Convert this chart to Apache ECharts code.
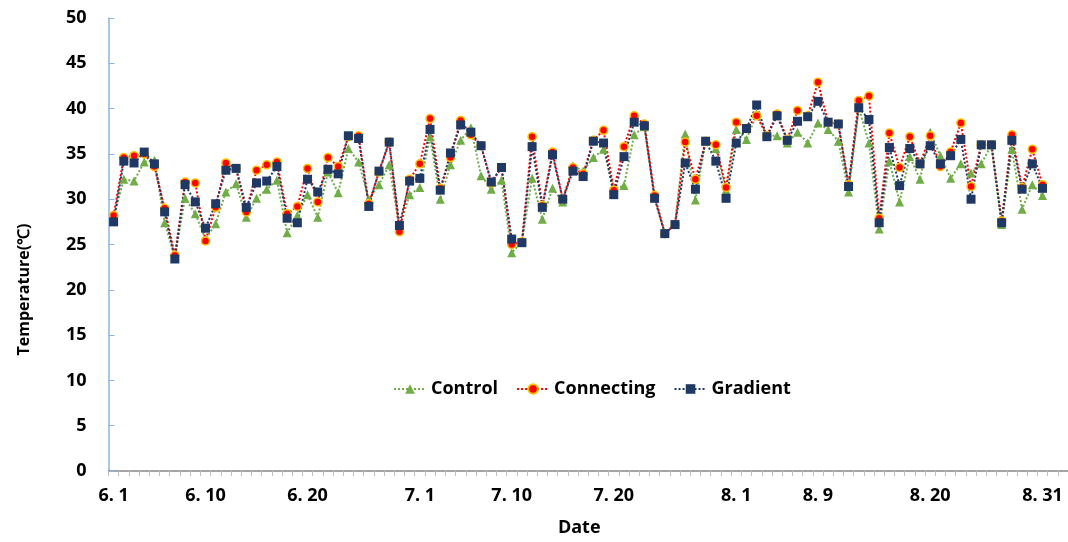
<!DOCTYPE html>
<html>
<head>
<meta charset="utf-8">
<script src="https://cdn.jsdelivr.net/npm/echarts@6/dist/echarts.min.js"></script>
<style>
html,body{margin:0;padding:0;background:#fff;}
#chart{width:1068px;height:542px;}
</style>
</head>
<body>
<div id="chart"></div>
<script>
var dates = ['6. 1','6. 2','6. 3','6. 4','6. 5','6. 6','6. 7','6. 8','6. 9','6. 10',
  '6. 11','6. 12','6. 13','6. 14','6. 15','6. 16','6. 17','6. 18','6. 19','6. 20',
  '6. 21','6. 22','6. 23','6. 24','6. 25','6. 26','6. 27','6. 28','6. 29','6. 30',
  '7. 1','7. 2','7. 3','7. 4','7. 5','7. 6','7. 7','7. 8','7. 9','7. 10',
  '7. 11','7. 12','7. 13','7. 14','7. 15','7. 16','7. 17','7. 18','7. 19','7. 20',
  '7. 21','7. 22','7. 23','7. 24','7. 25','7. 26','7. 27','7. 28','7. 29','7. 30','7. 31',
  '8. 1','8. 2','8. 3','8. 4','8. 5','8. 6','8. 7','8. 8','8. 9','8. 10',
  '8. 11','8. 12','8. 13','8. 14','8. 15','8. 16','8. 17','8. 18','8. 19','8. 20',
  '8. 21','8. 22','8. 23','8. 24','8. 25','8. 26','8. 27','8. 28','8. 29','8. 30','8. 31'];
var trailingBlank = ['', ''];
var shownLabels = ['6. 1','6. 10','6. 20','7. 1','7. 10','7. 20','8. 1','8. 9','8. 20','8. 31'];

var control = [28.0, 32.2, 32.0, 34.1, 34.3, 27.4, 23.6, 30.1, 28.4, 25.6,
  27.3, 30.8, 31.7, 28.0, 30.1, 31.1, 32.1, 26.3, 28.2, 30.5,
  28.0, 33.0, 30.7, 35.6, 34.1, 30.0, 31.6, 33.8, 26.8, 30.5,
  31.3, 36.9, 30.0, 33.8, 36.5, 37.9, 32.6, 31.1, 32.1, 24.1,
  25.3, 32.3, 27.8, 31.2, 29.7, 33.7, 33.1, 34.6, 35.5, 31.1,
  31.5, 37.1, 38.0, 30.2, 26.3, 27.3, 37.2, 29.9, 36.4, 35.6,
  31.0, 37.7, 36.6, 39.4, 37.0, 37.0, 36.2, 37.4, 36.2, 38.4,
  37.7, 36.4, 30.8, 40.1, 36.2, 26.7, 34.2, 29.7, 34.7, 32.2,
  37.4, 34.8, 32.3, 33.9, 32.9, 33.9, 36.0, 27.2, 35.5, 28.9,
  31.6, 30.4];
var connecting = [28.2, 34.6, 34.8, 35.0, 33.6, 29.0, 23.8, 31.9, 31.8, 25.4,
  29.1, 34.0, 33.4, 28.6, 33.2, 33.8, 34.1, 28.4, 29.2, 33.4,
  29.7, 34.6, 33.6, 36.9, 37.0, 29.5, 33.0, 36.3, 26.4, 32.2,
  33.9, 38.9, 31.2, 34.6, 38.7, 37.1, 35.9, 31.8, 33.5, 25.0,
  25.3, 36.9, 29.3, 35.2, 30.0, 33.5, 32.8, 36.5, 37.6, 31.0,
  35.8, 39.2, 38.3, 30.4, 26.2, 27.2, 36.3, 32.2, 36.4, 36.0,
  31.3, 38.5, 37.8, 39.2, 37.0, 39.4, 36.6, 39.8, 39.2, 42.9,
  38.5, 38.3, 31.6, 40.9, 41.4, 27.9, 37.3, 33.5, 36.9, 33.9,
  37.0, 33.6, 35.2, 38.4, 31.4, 36.0, 36.0, 27.6, 37.1, 31.3,
  35.5, 31.6];
var gradient = [27.5, 34.2, 34.0, 35.2, 33.9, 28.6, 23.4, 31.6, 29.7, 26.8,
  29.5, 33.2, 33.4, 29.1, 31.8, 32.0, 33.6, 27.9, 27.4, 32.2,
  30.8, 33.3, 32.8, 37.0, 36.7, 29.2, 33.1, 36.3, 27.1, 32.0,
  32.3, 37.7, 31.0, 35.1, 38.2, 37.4, 35.9, 31.9, 33.5, 25.6,
  25.2, 35.8, 29.1, 34.9, 30.0, 33.1, 32.5, 36.4, 36.2, 30.5,
  34.7, 38.5, 38.1, 30.1, 26.2, 27.2, 34.0, 31.1, 36.4, 34.2,
  30.1, 36.2, 37.8, 40.4, 36.9, 39.2, 36.5, 38.6, 39.1, 40.8,
  38.5, 38.3, 31.4, 40.1, 38.8, 27.4, 35.7, 31.5, 35.6, 33.9,
  35.9, 33.9, 34.8, 36.6, 30.0, 36.0, 36.0, 27.4, 36.5, 31.1,
  33.9, 31.2];

var FONT = "'Open Sans', 'Liberation Sans', sans-serif";
var chart = echarts.init(document.getElementById('chart'), null, {renderer: 'canvas'});
chart.setOption({
  animation: false,
  backgroundColor: '#ffffff',
  grid: {left: 108.5, right: 0, top: 18, bottom: 69, containLabel: false},
  legend: {
    data: ['Control', 'Connecting', 'Gradient'],
    left: 388, top: 375,
    itemWidth: 32, itemHeight: 12, itemGap: 18,
    textStyle: {fontFamily: FONT, fontWeight: 'bold', fontSize: 18, color: '#000'}
  },
  xAxis: {
    type: 'category',
    data: dates.concat(trailingBlank),
    boundaryGap: true,
    name: 'Date',
    nameLocation: 'middle',
    nameGap: 48,
    nameTextStyle: {fontFamily: FONT, fontWeight: 'bold', fontSize: 18, color: '#000', padding: [0, 18, 0, 0]},
    axisLine: {lineStyle: {color: '#868686', width: 1.5}},
    axisTick: {show: true, interval: 0, length: 5, lineStyle: {color: '#BFBFBF'}},
    axisLabel: {
      interval: 0,
      margin: 16,
      fontFamily: FONT, fontWeight: 'bold', fontSize: 18, color: '#000',
      formatter: function (v) { return shownLabels.indexOf(v) >= 0 ? v : ''; }
    },
    splitLine: {show: false}
  },
  yAxis: {
    type: 'value',
    min: 0, max: 50, interval: 5,
    name: 'Temperature(\u2103)',
    nameLocation: 'middle',
    nameGap: 76,
    nameRotate: 90,
    nameTextStyle: {fontFamily: FONT, fontWeight: 'bold', fontSize: 16, color: '#000', padding: [0, 90, 0, 0]},
    axisLine: {show: true, lineStyle: {color: '#8DB4E2', width: 1.5}},
    axisTick: {show: true, inside: true, length: 6, lineStyle: {color: '#8DB4E2'}},
    axisLabel: {margin: 22, fontFamily: FONT, fontWeight: 'bold', fontSize: 18, color: '#000'},
    splitLine: {show: false}
  },
  series: [
    {
      name: 'Control', type: 'line', data: control,
      symbol: 'triangle', symbolSize: 9,
      itemStyle: {color: '#70AD47'},
      lineStyle: {color: '#70AD47', width: 2, type: 'dotted'}
    },
    {
      name: 'Connecting', type: 'line', data: connecting,
      symbol: 'circle', symbolSize: 8,
      itemStyle: {color: '#FF0000', borderColor: '#FFC000', borderWidth: 1.5},
      lineStyle: {color: '#FF0000', width: 2, type: 'dotted'}
    },
    {
      name: 'Gradient', type: 'line', data: gradient,
      symbol: 'rect', symbolSize: 9,
      itemStyle: {color: '#1F3864'},
      lineStyle: {color: '#1F3864', width: 2, type: 'dotted'}
    }
  ]
});
</script>
</body>
</html>
